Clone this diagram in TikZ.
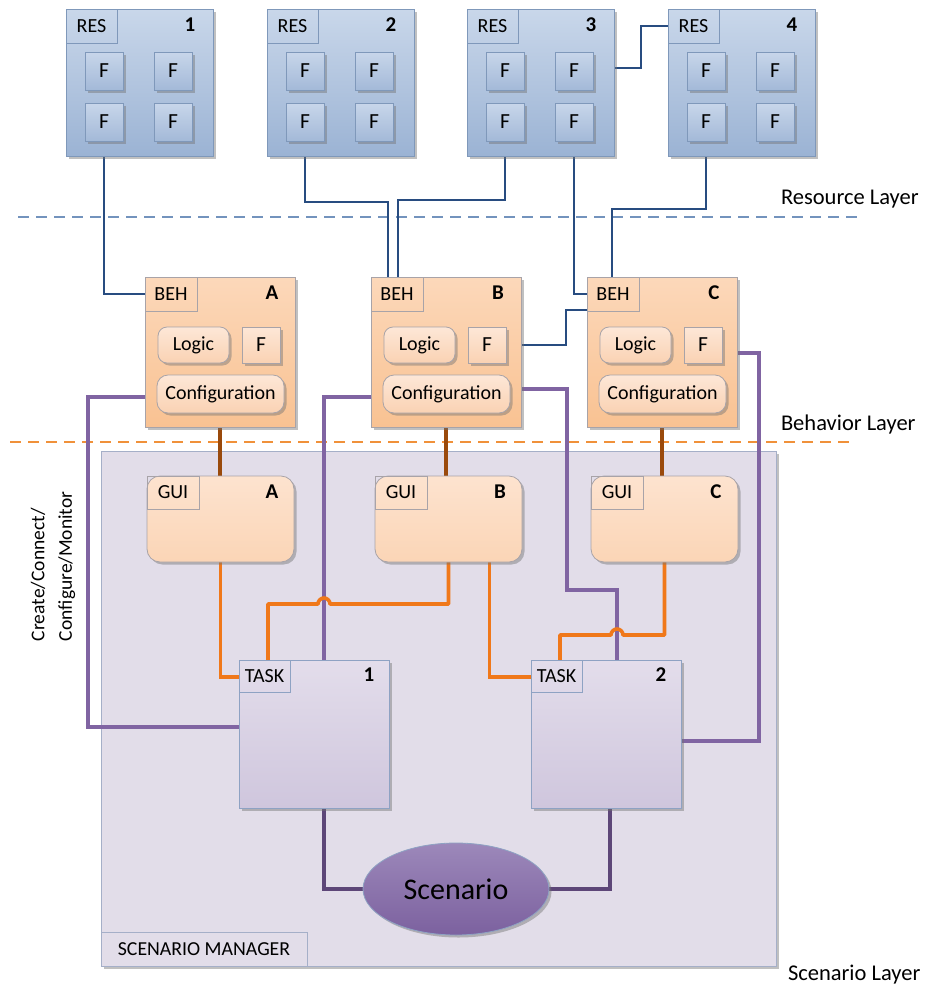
\documentclass[tikz,border=0pt]{standalone}
\usepackage{fontspec}
\setmainfont{Carlito}
\usetikzlibrary{shadows,calc,shapes.geometric}

\definecolor{restop}{HTML}{C9D7EA}
\definecolor{resbot}{HTML}{9BB3D4}
\definecolor{resline}{HTML}{7F98BA}
\definecolor{ftop}{HTML}{C8D6EA}
\definecolor{fbot}{HTML}{A3B9D8}
\definecolor{behtop}{HTML}{FCD8BA}
\definecolor{behbot}{HTML}{F9C292}
\definecolor{behline}{HTML}{A8A3A8}
\definecolor{intop}{HTML}{FDE7D7}
\definecolor{inbot}{HTML}{FAD2B3}
\definecolor{guitop}{HTML}{FDE3CF}
\definecolor{guibot}{HTML}{FBD5B6}
\definecolor{smfill}{HTML}{E2DDE9}
\definecolor{smline}{HTML}{A5AFC8}
\definecolor{tasktop}{HTML}{E3DDEB}
\definecolor{taskbot}{HTML}{CFC6DD}
\definecolor{taskline}{HTML}{8EA2C3}
\definecolor{sctop}{HTML}{9C88BA}
\definecolor{scbot}{HTML}{7C619F}
\definecolor{wireblue}{HTML}{284C80}
\definecolor{wirepurple}{HTML}{8064A2}
\definecolor{wireorange}{HTML}{F0781A}
\definecolor{wirebrown}{HTML}{9A4A0C}
\definecolor{wiredark}{HTML}{5D4678}
\definecolor{dashblue}{HTML}{7393BD}
\definecolor{dashorange}{HTML}{F0913A}

\pgfdeclarelayer{bg}
\pgfdeclarelayer{wires}
\pgfsetlayers{bg,wires,main}

\tikzset{
  every node/.style={inner sep=0pt, outer sep=0pt},
  softshadow/.style={drop shadow={shadow xshift=2.5pt, shadow yshift=-2.5pt, opacity=0.45, fill=black!55}},
  resbox/.style={draw=resline, line width=0.8pt, top color=restop, bottom color=resbot,
    anchor=north west, minimum width=147pt, minimum height=147pt, softshadow},
  ffbox/.style={draw=resline, line width=0.8pt, top color=ftop, bottom color=fbot,
    minimum width=38pt, minimum height=38pt, softshadow, font=\fontsize{21.5}{22}\selectfont},
  tag/.style={draw=#1, line width=0.8pt, anchor=north west, font=\fontsize{20}{22}\selectfont},
  num/.style={font=\fontsize{21}{22}\selectfont\bfseries},
  behbox/.style={draw=behline, line width=0.8pt, top color=behtop, bottom color=behbot,
    anchor=north west, minimum width=150pt, minimum height=150pt, softshadow},
  inbox/.style={draw=behline, line width=0.8pt, top color=intop, bottom color=inbot,
    anchor=north west, softshadow, font=\fontsize{20}{22}\selectfont},
  guibox/.style={draw=behline, line width=0.8pt, top color=guitop, bottom color=guibot,
    anchor=north west, minimum width=147pt, minimum height=86pt, rounded corners=13pt, softshadow},
  taskbox/.style={draw=taskline, line width=0.8pt, top color=tasktop, bottom color=taskbot,
    anchor=north west, minimum width=150pt, minimum height=148pt, softshadow},
  layerlabel/.style={anchor=west, font=\fontsize{22.5}{24}\selectfont},
  wblue/.style={draw=wireblue, line width=2.8pt},
  wpurple/.style={draw=wirepurple, line width=3.2pt},
  worange/.style={draw=wireorange, line width=3.6pt},
  wbrown/.style={draw=wirebrown, line width=3.6pt},
  wdark/.style={draw=wiredark, line width=3.8pt},
}

\begin{document}
\begin{tikzpicture}[x=1pt, y=-1pt]
\useasboundingbox (0,0) rectangle (930,994);

% ---------- scenario manager frame ----------
\begin{pgfonlayer}{bg}
  \node[draw=smline, line width=0.8pt, fill=smfill, anchor=north west,
        minimum width=675pt, minimum height=515pt, softshadow] (sm) at (101,451) {};
\end{pgfonlayer}
\node[tag=smline, minimum width=206pt, minimum height=34pt,
      font=\fontsize{19.8}{22}\selectfont] (sm-l) at (101,932) {SCENARIO MANAGER};

% ---------- resources ----------
\foreach \x/\n in {66/1,267/2,467/3,668/4}{
  \node[resbox] (r\n) at (\x,9) {};
  \node[tag=resline, minimum width=51pt, minimum height=34pt] (r\n-l) at (\x,9) {RES};
  \node[num] at (\x+124,25) {\n};
  \node[ffbox] (r\n-a) at (\x+38,71) {F};
  \node[ffbox] (r\n-b) at (\x+107,71) {F};
  \node[ffbox] (r\n-c) at (\x+38,122) {F};
  \node[ffbox] (r\n-d) at (\x+107,122) {F};
}

% ---------- behaviours ----------
\foreach \x/\n in {145/A,371/B,587/C}{
  \node[behbox] (b\n) at (\x,277) {};
  \node[tag=behline, minimum width=52pt, minimum height=34pt] (b\n-l) at (\x,277) {BEH};
  \node[num] at (\x+127,293) {\n};
  \node[inbox, rounded corners=9pt, minimum width=71pt, minimum height=36pt] (b\n-g) at (\x+13,327) {Logic};
  \node[inbox, minimum width=38pt, minimum height=36pt, font=\fontsize{21.5}{22}\selectfont] (b\n-f) at (\x+97,327) {F};
  \node[inbox, rounded corners=11pt, minimum width=127pt, minimum height=38pt] (b\n-c) at (\x+12,375) {Configuration};
}

% ---------- GUIs ----------
\foreach \x/\n in {147/A,375/B,591/C}{
  \node[guibox] (g\n) at (\x,476) {};
  \node[tag=behline, minimum width=52pt, minimum height=33pt] (g\n-l) at (\x,476) {GUI};
  \node[num] at (\x+125,492) {\n};
}

% ---------- tasks ----------
\foreach \x/\n in {239/1,531/2}{
  \node[taskbox] (t\n) at (\x,660) {};
  \node[tag=taskline, minimum width=51pt, minimum height=32pt] (t\n-l) at (\x,660) {TASK};
  \node[num] at (\x+130,675) {\n};
}

% ---------- scenario ----------
\node[ellipse, draw=taskline, line width=0.8pt, top color=sctop, bottom color=scbot,
      minimum width=186pt, minimum height=92pt, softshadow,
      font=\fontsize{30}{34}\selectfont] (sc) at (456,889) {Scenario};

% ---------- layer separators and labels ----------
\coordinate (resL) at (18,217);
\coordinate (resR) at (860,217);
\coordinate (behL) at (10,442);
\coordinate (behR) at (850,442);
\begin{pgfonlayer}{wires}
  \draw[dashblue, line width=1.8pt, dash pattern=on 11pt off 7pt] (resL) -- (resR);
  \draw[dashorange, line width=1.8pt, dash pattern=on 11pt off 7pt] (behL) -- (behR);
\end{pgfonlayer}
\node[layerlabel] (lab-res) at (781,199) {Resource Layer};
\node[layerlabel] (lab-beh) at (781,424) {Behavior Layer};
\node[layerlabel] (lab-scn) at (788,975) {Scenario Layer};
\node[rotate=90, anchor=west, align=left, font=\fontsize{19.5}{27.5}\selectfont]
  (lab-ccm) at (53,641) {Create/Connect/\\Configure/Monitor};

% ---------- connectors ----------
\begin{pgfonlayer}{wires}
  % resources to behaviours
  \draw[wblue] (r1-c.south) |- (bA-l.west);
  \draw[wblue] (r2-c.south) -- ++(0,61) -| ($(bB.north west)+(17,0)$);
  \draw[wblue] (r3-c.south) -- ++(0,59) -| ($(bB.north west)+(27,0)$);
  \draw[wblue] (r3-d.south) |- (bC-l.west);
  \draw[wblue] (r4-c.south) -- ++(0,68) -| ($(bC.north west)+(25,0)$);
  \draw[wblue] ($(r3-b.east)+(0,-3)$) -- ++(48,0) |- (r4-l.west);
  \draw[wblue] (bB-f.east) -- ++(60,0) |- ($(bC.north west)+(0,33)$);

  % configuration links to tasks
  \draw[wpurple] ($(bA.west |- bA-c.west)+(0,3)$) -- ++(-57,0) |- ($(t1.west)+(0,-7)$);
  \draw[wpurple] ($(bB.west |- bB-c.west)+(0,3)$) -| ($(t1.north west)+(85,0)$);
  \draw[wpurple] ($(bB.east)+(0,37)$) -- ++(46,0) -- ++(0,201) -| ($(t2.north west)+(86,0)$);
  \draw[wpurple] ($(bC.east |- bC-f.east)+(0,8)$) -- ++(22,0) |- ($(t2.east)+(0,7)$);

  % behaviours to GUIs
  \draw[wbrown] (bA.south) -- (bA.south |- gA.north);
  \draw[wbrown] (bB.south) -- (bB.south |- gB.north);
  \draw[wbrown] (bC.south) -- (bC.south |- gC.north);

  % GUIs to tasks
  \coordinate (hop1) at ($(t1.north west)+(85,-56)$);
  \coordinate (hop2) at ($(t2.north west)+(86,-25)$);
  \draw[worange] (gA.south) |- ($(t1.north west)+(0,17)$);
  \draw[worange, line join=round] (gB.south) |- ($(hop1)+(6,0)$)
    arc[start angle=0, end angle=-180, radius=6] -- ($(t1.north west)+(29,-56)$)
    -- ($(t1.north west)+(29,0)$);
  \draw[worange] ($(gB.south)+(41,0)$) |- ($(t2.north west)+(0,17)$);
  \draw[worange, line join=round] (gC.south) |- ($(hop2)+(6,0)$)
    arc[start angle=0, end angle=-180, radius=6] -- ($(t2.north west)+(29,-25)$)
    -- ($(t2.north west)+(29,0)$);

  % tasks to scenario
  \draw[wdark] ($(t1.south west)+(85,0)$) |- (sc.west);
  \draw[wdark] ($(t2.south west)+(79,0)$) |- (sc.east);
\end{pgfonlayer}
\end{tikzpicture}
\end{document}
